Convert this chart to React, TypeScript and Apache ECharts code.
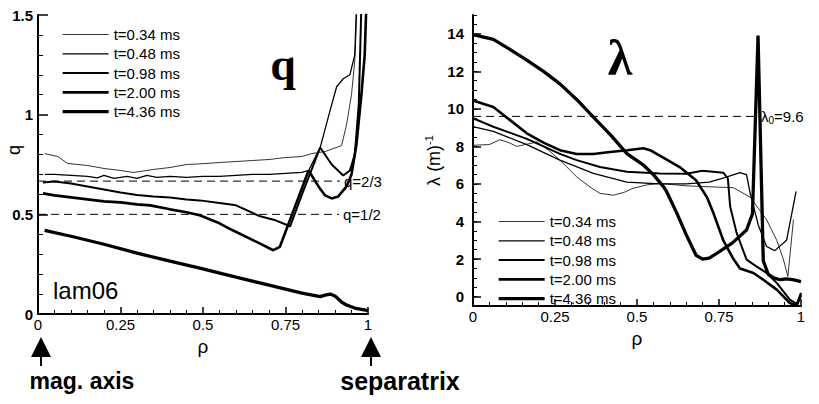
import React, { useEffect, useRef } from 'react';
import * as echarts from 'echarts';

// ---------- data ----------
const seriesNames = ['t=0.34 ms', 't=0.48 ms', 't=0.98 ms', 't=2.00 ms', 't=4.36 ms'];

const xTicks = [0, 0.25, 0.5, 0.75, 1];
const qTicks = [0, 0.5, 1, 1.5];
const lamTicks = [0, 2, 4, 6, 8, 10, 12, 14];

// q profiles [rho, q]
const q034 = [[0.02,0.805],[0.06,0.79],[0.09,0.755],[0.15,0.745],[0.2,0.73],[0.25,0.72],[0.29,0.71],[0.35,0.725],[0.4,0.735],[0.45,0.75],[0.49,0.753],[0.55,0.76],[0.6,0.765],[0.65,0.77],[0.7,0.775],[0.75,0.785],[0.8,0.79],[0.83,0.805],[0.87,0.815],[0.92,0.845],[0.935,0.95],[0.95,1.1],[0.96,1.27],[0.967,1.55]];
const q048 = [[0.02,0.70],[0.05,0.70],[0.1,0.695],[0.15,0.69],[0.18,0.683],[0.2,0.695],[0.23,0.68],[0.27,0.69],[0.3,0.68],[0.33,0.695],[0.36,0.685],[0.4,0.69],[0.45,0.685],[0.5,0.69],[0.55,0.69],[0.6,0.695],[0.65,0.70],[0.7,0.70],[0.75,0.705],[0.8,0.71],[0.82,0.72],[0.855,0.835],[0.885,1.02],[0.905,1.14],[0.925,1.18],[0.945,1.2],[0.96,1.3],[0.965,1.55]];
const q098 = [[0.015,0.66],[0.05,0.665],[0.1,0.655],[0.15,0.64],[0.2,0.625],[0.25,0.61],[0.3,0.597],[0.35,0.59],[0.4,0.585],[0.45,0.575],[0.49,0.57],[0.55,0.557],[0.6,0.545],[0.673,0.49],[0.72,0.47],[0.764,0.44],[0.8,0.6],[0.855,0.835],[0.89,0.75],[0.925,0.695],[0.945,0.72],[0.96,0.8],[0.972,1.05],[0.98,1.55]];
const q200 = [[0.015,0.605],[0.05,0.595],[0.1,0.585],[0.15,0.575],[0.2,0.565],[0.25,0.56],[0.3,0.55],[0.34,0.545],[0.4,0.525],[0.45,0.51],[0.49,0.495],[0.55,0.455],[0.59,0.42],[0.673,0.353],[0.713,0.32],[0.733,0.337],[0.82,0.72],[0.85,0.64],[0.87,0.595],[0.89,0.58],[0.91,0.59],[0.935,0.64],[0.95,0.7],[0.965,0.85],[0.98,1.1],[0.99,1.3],[0.995,1.55]];
const q436 = [[0.02,0.42],[0.1,0.39],[0.2,0.35],[0.3,0.305],[0.4,0.265],[0.49,0.23],[0.6,0.185],[0.7,0.145],[0.8,0.105],[0.855,0.087],[0.87,0.095],[0.885,0.10],[0.9,0.09],[0.92,0.06],[0.935,0.045],[0.96,0.03],[1.0,0.017]];

// lambda profiles [rho, lambda (1/m)]
const lam034 = [[0,8.06],[0.05,8.1],[0.082,8.36],[0.11,8.2],[0.133,8.0],[0.16,8.1],[0.195,8.24],[0.23,7.8],[0.265,7.27],[0.316,6.38],[0.36,5.8],[0.387,5.5],[0.428,5.4],[0.46,5.55],[0.488,5.77],[0.53,5.95],[0.57,6.03],[0.65,5.9],[0.72,5.85],[0.794,5.8],[0.845,5.3],[0.895,4.1],[0.926,3.0],[0.946,2.0],[0.96,1.08],[0.977,4.1]];
const lam048 = [[0,9.05],[0.062,8.8],[0.164,8.1],[0.265,7.27],[0.367,6.56],[0.469,6.1],[0.57,6.0],[0.65,6.0],[0.72,6.1],[0.76,6.3],[0.814,6.6],[0.834,6.5],[0.845,5.5],[0.87,3.8],[0.895,2.67],[0.92,2.45],[0.956,3.0],[0.985,5.6]];
const lam098 = [[0,9.5],[0.062,9.05],[0.164,8.4],[0.215,8.0],[0.265,7.6],[0.316,7.27],[0.387,6.9],[0.469,6.65],[0.57,6.56],[0.65,6.55],[0.7,6.7],[0.763,6.6],[0.777,6.3],[0.784,4.8],[0.804,3.38],[0.834,1.97],[0.865,1.6],[0.895,1.26],[0.926,0.73],[0.966,-0.16],[0.987,-0.4],[1.0,0.2]];
const lam200 = [[0,10.45],[0.062,10.1],[0.113,9.4],[0.164,8.7],[0.215,8.2],[0.265,7.8],[0.316,7.6],[0.367,7.6],[0.418,7.7],[0.47,7.8],[0.52,7.9],[0.54,7.8],[0.58,7.4],[0.63,6.9],[0.68,6.2],[0.713,5.3],[0.733,4.45],[0.763,3.0],[0.794,2.0],[0.814,1.5],[0.855,1.26],[0.885,0.9],[0.926,0.37],[0.966,-0.34],[0.987,-0.48],[1.0,0.1]];
const lam436 = [[0,13.95],[0.062,13.7],[0.11,13.2],[0.164,12.6],[0.215,12.0],[0.265,11.33],[0.316,10.5],[0.367,9.56],[0.42,8.6],[0.469,7.62],[0.52,7.0],[0.55,6.5],[0.58,5.87],[0.59,5.6],[0.62,4.5],[0.65,3.3],[0.68,2.2],[0.7,2.0],[0.72,2.05],[0.743,2.3],[0.79,2.85],[0.834,3.55],[0.852,4.4],[0.869,13.9],[0.885,1.9],[0.9,1.2],[0.916,1.0],[0.936,0.9],[0.956,0.95],[0.975,0.9],[1.0,0.8]];

// reference levels
const qTwoThirdLine = [[0, 2 / 3], [0.915, 2 / 3]];
const qHalfLine = [[0, 0.5], [0.912, 0.5]];
const lambda0Line = [[0, 9.6], [0.866, 9.6]];

const qSeries = [q034, q048, q098, q200, q436];
const lamSeries = [lam034, lam048, lam098, lam200, lam436];

const SANS = '"Liberation Sans", Arial, Helvetica, sans-serif';
const SERIF = '"Liberation Serif", "Times New Roman", serif';

export default function App() {
  const ref = useRef<HTMLDivElement>(null);

  useEffect(() => {
    if (!ref.current) return;
    const chart = echarts.init(ref.current, null, { renderer: 'svg' });
    const widths = [0.8, 1.3, 2, 2.6, 3.3];

    const axisLine = { show: true, onZero: false, lineStyle: { color: '#000', width: 2 } };
    const xAxisBase = (gridIndex: number) => ({
      type: 'value',
      gridIndex,
      min: 0,
      max: 1,
      interval: 0.25,
      axisLine,
      axisTick: { show: true, inside: true, length: 7, lineStyle: { color: '#000', width: 1.5 } },
      minorTick: { show: true, splitNumber: 5, length: 4, lineStyle: { color: '#000', width: 1 } },
      splitLine: { show: false },
      axisLabel: {
        show: true, margin: 3, color: '#000', fontSize: 15, fontFamily: SANS,
        customValues: xTicks,
      },
      name: 'ρ',
      nameLocation: 'middle',
      nameGap: 14,
      nameTextStyle: { fontSize: 19, color: '#000', fontFamily: SANS },
    });

    const lineSeries = (data: number[][], i: number, xi: number, yi: number) => ({
      type: 'line',
      name: seriesNames[i],
      xAxisIndex: xi,
      yAxisIndex: yi,
      data,
      symbol: 'none',
      showSymbol: false,
      silent: true,
      clip: true,
      lineStyle: { color: '#000', width: widths[i] },
      itemStyle: { color: '#000' },
    });

    const dashed = (data: number[][], xi: number, yi: number, label: string, rich?: any) => ({
      type: 'line',
      name: 'ref' + label,
      xAxisIndex: xi,
      yAxisIndex: yi,
      data,
      symbol: 'none',
      silent: true,
      lineStyle: { color: '#000', width: 1, type: [8, 5] },
      endLabel: {
        show: true,
        formatter: label,
        distance: 4,
        color: '#000',
        fontSize: 15,
        fontFamily: SANS,
        rich,
      },
    });

    const legendBase = {
      orient: 'vertical',
      data: seriesNames.map((n, i) => ({
        name: n,
        lineStyle: { width: widths[i], color: '#000' },
        itemStyle: { opacity: 0, color: 'transparent', borderWidth: 0 },
      })),
      itemWidth: 46,
      itemHeight: 14,
      itemGap: 4.3,
      padding: 0,
      selectedMode: false,
      itemStyle: { opacity: 0, color: 'transparent', borderWidth: 0 },
      textStyle: { fontSize: 15, color: '#000', fontFamily: SANS, lineHeight: 14 },
    };

    const option: any = {
      animation: false,
      backgroundColor: '#fff',
      grid: [
        { left: 38, top: 15, width: 330, height: 299, containLabel: false, outerBoundsMode: 'none' },
        { left: 473, top: 15, width: 328, height: 291, containLabel: false, outerBoundsMode: 'none' },
      ],
      legend: [
        { ...legendBase, left: 61, top: 27 },
        { ...legendBase, left: 497, top: 214 },
      ],
      xAxis: [xAxisBase(0), xAxisBase(1)],
      yAxis: [
        {
          type: 'value', gridIndex: 0, min: 0, max: 1.5, interval: 0.5,
          axisLine,
          axisTick: { show: true, inside: true, length: 10, lineStyle: { color: '#000', width: 1.5 } },
          minorTick: { show: true, splitNumber: 5, length: 5, lineStyle: { color: '#000', width: 1 } },
          splitLine: { show: false },
          axisLabel: { margin: 5, color: '#000', fontSize: 15, fontWeight: 'bold', fontFamily: SANS, customValues: qTicks },
        },
        {
          type: 'value', gridIndex: 1, min: -0.5, max: 15, position: 'left', offset: 0,
          axisLine,
          axisTick: { show: true, inside: true, length: 8, customValues: lamTicks, lineStyle: { color: '#000', width: 1.5 } },
          splitLine: { show: false },
          axisLabel: {
            margin: 9, color: '#000', fontSize: 15, fontWeight: 'bold', fontFamily: SANS,
            customValues: lamTicks,
            formatter: (v: number) => (Number.isInteger(v) && v % 2 === 0 && v >= 0 ? String(v) : ''),
          },
          name: '{a|λ (m)}{s|-1}', nameLocation: 'middle', nameRotate: 90, nameGap: 22,
          nameTextStyle: {
            color: '#000', fontFamily: SANS,
            rich: {
              a: { fontSize: 18, color: '#000', fontFamily: SANS },
              s: { fontSize: 11, color: '#000', fontFamily: SANS, verticalAlign: 'top', padding: [0, 0, 10, 0] },
            },
          },
        },
        {
          type: 'value', gridIndex: 1, min: -0.5, max: 15, interval: 0.5, position: 'left', offset: 0,
          axisLine: { show: false },
          axisTick: { show: true, inside: true, length: 4, lineStyle: { color: '#000', width: 1 } },
          axisLabel: { show: false },
          splitLine: { show: false },
        },
      ],
      series: [
        ...qSeries.map((d, i) => lineSeries(d, i, 0, 0)),
        ...lamSeries.map((d, i) => lineSeries(d, i, 1, 1)),
        dashed(qTwoThirdLine, 0, 0, 'q=2/3'),
        dashed(qHalfLine, 0, 0, 'q=1/2'),
        dashed(lambda0Line, 1, 1, '{a|λ}{s|0}{a|=9.6}', {
          a: { fontSize: 15, color: '#000', fontFamily: SANS },
          s: { fontSize: 10, color: '#000', fontFamily: SANS, padding: [8, 0, 0, 0] },
        }),
      ],
      graphic: [
        { type: 'text', x: 14, y: 150, rotation: Math.PI / 2, style: { text: 'q', font: `18px ${SANS}`, fill: '#000', textAlign: 'center', textVerticalAlign: 'middle' } },
        { type: 'text', x: 283, y: 64, style: { text: 'q', font: `bold 46px ${SERIF}`, fill: '#000', textAlign: 'center', textVerticalAlign: 'middle' } },
        { type: 'text', x: 620, y: 58, style: { text: 'λ', font: `bold 50px ${SERIF}`, fill: '#000', textAlign: 'center', textVerticalAlign: 'middle' } },
        { type: 'text', x: 53, y: 290, style: { text: 'lam06', font: `24px ${SANS}`, fill: '#000', textAlign: 'left', textVerticalAlign: 'middle' } },
        { type: 'text', x: 82, y: 381, style: { text: 'mag. axis', font: `bold 23px ${SANS}`, fill: '#000', textAlign: 'center', textVerticalAlign: 'middle' } },
        { type: 'text', x: 400, y: 381, style: { text: 'separatrix', font: `bold 25px ${SANS}`, fill: '#000', textAlign: 'center', textVerticalAlign: 'middle' } },
        { type: 'polygon', shape: { points: [[31, 357], [51, 357], [41, 337]] }, style: { fill: '#000' } },
        { type: 'line', shape: { x1: 41, y1: 356, x2: 41, y2: 366 }, style: { stroke: '#000', lineWidth: 2 } },
        { type: 'polygon', shape: { points: [[361, 357], [381, 357], [371, 337]] }, style: { fill: '#000' } },
        { type: 'line', shape: { x1: 371, y1: 356, x2: 371, y2: 366 }, style: { stroke: '#000', lineWidth: 2 } },
      ],
    };

    chart.setOption(option);
    return () => chart.dispose();
  }, []);

  return (
    <div
      ref={ref}
      style={{ position: 'absolute', left: 0, top: 0, width: 819, height: 404, background: '#fff' }}
    />
  );
}
